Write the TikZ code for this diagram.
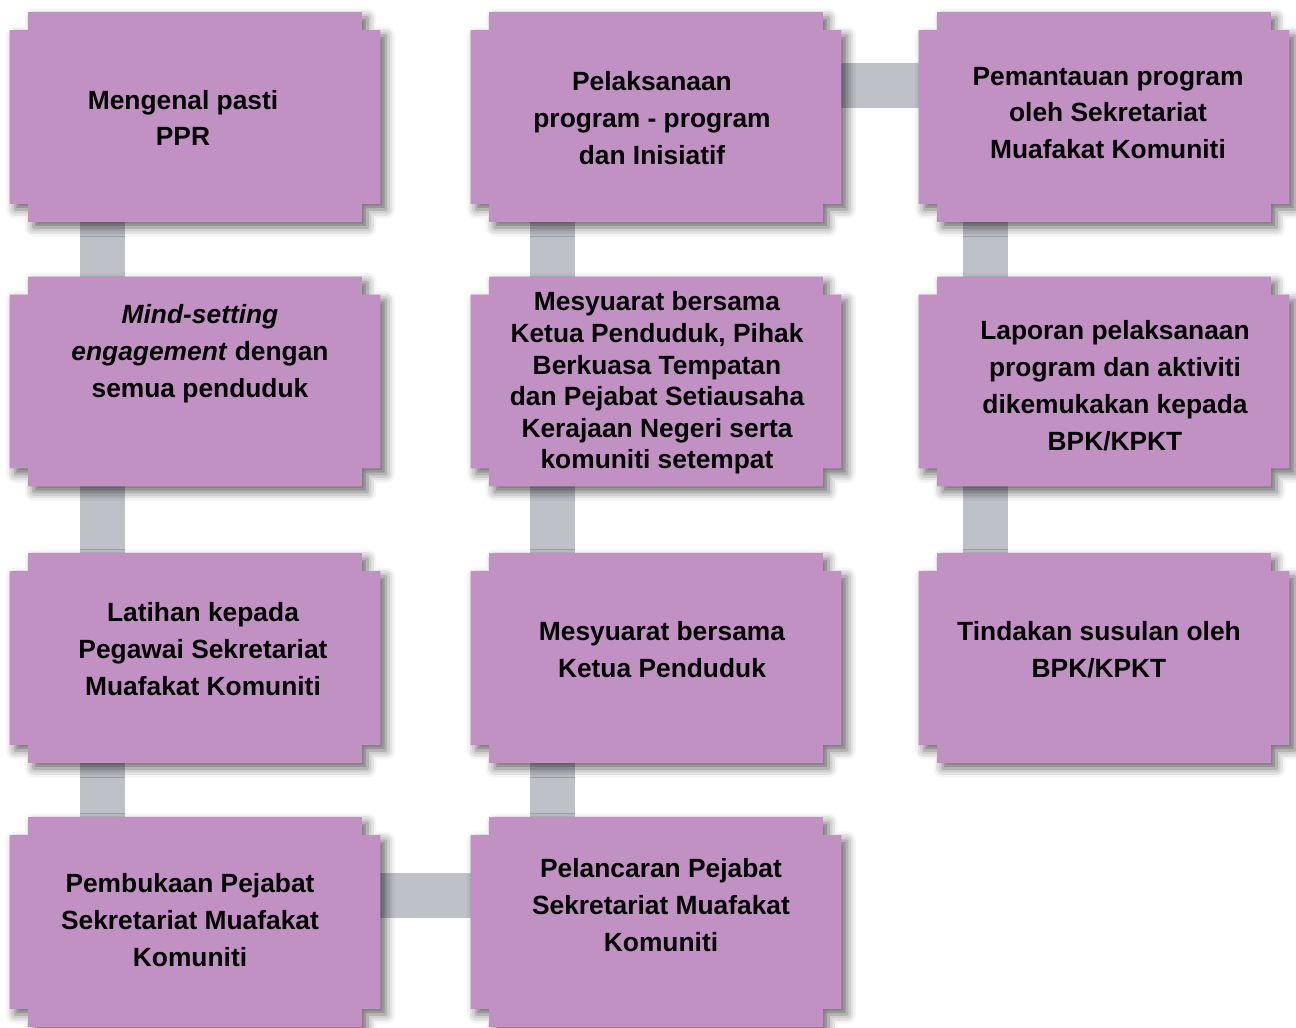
\documentclass[tikz,border=0pt]{standalone}
\usepackage{fontspec}
\setmainfont{Liberation Sans}
\usepackage{xcolor}
\usetikzlibrary{positioning, calc, backgrounds, shadows.blur}
\definecolor{boxpurple}{HTML}{C291C3}
\definecolor{linkgray}{HTML}{BFC1C9}

\begin{document}
\begin{tikzpicture}[x=0.02cm, y=-0.02cm,
    box/.style={rectangle, minimum width=6.68cm, minimum height=4.2cm, inner sep=0pt, outer sep=0pt},
    lbl/.style={font=\fontsize{15}{21}\selectfont\bfseries, align=center, inner sep=0pt},
    notch/.style={fill=boxpurple, blur shadow={shadow xshift=0.11cm, shadow yshift=-0.11cm, shadow blur radius=0.18cm, shadow opacity=60}},
    link/.style={draw=linkgray, line width=0.9cm}
]
\useasboundingbox (0,0) rectangle (1296,1028);

% Column 1
\node[box] (pasti) at (195,117) {};
\node[box] (mind) at (195,381.5) {};
\node[box] (latihan) at (195,658) {};
\node[box] (buka) at (195,922) {};

% Column 2
\node[box] (laksana) at (656,117) {};
\node[box] (mesyall) at (656,381.5) {};
\node[box] (mesyk) at (656,658) {};
\node[box] (lancar) at (656,922) {};

% Column 3
\node[box] (pantau) at (1104,117) {};
\node[box] (lapor) at (1104,381.5) {};
\node[box] (susul) at (1104,658) {};

% Labels
\node[lbl] at ($(pasti)+(-12,1)$) {Mengenal pasti\\PPR};
\node[lbl] at ($(mind)+(5,-27.5)$) {\textit{Mind-setting}\\\textit{engagement} dengan\\semua penduduk};
\node[lbl] at ($(latihan)+(8,-9)$) {Latihan kepada\\Pegawai Sekretariat\\Muafakat Komuniti};
\node[lbl] at ($(buka)+(-5,-2)$) {Pembukaan Pejabat\\Sekretariat Muafakat\\Komuniti};
\node[lbl] at ($(laksana)+(-4,1)$) {Pelaksanaan\\program - program\\dan Inisiatif};
\node[lbl, font=\fontsize{15}{18}\selectfont\bfseries] at ($(mesyall)+(1,1.5)$) {Mesyuarat bersama\\Ketua Penduduk, Pihak\\Berkuasa Tempatan\\dan Pejabat Setiausaha\\Kerajaan Negeri serta\\komuniti setempat};
\node[lbl] at ($(mesyk)+(6,-8)$) {Mesyuarat bersama\\Ketua Penduduk};
\node[lbl] at ($(lancar)+(5,-17)$) {Pelancaran Pejabat\\Sekretariat Muafakat\\Komuniti};
\node[lbl] at ($(pantau)+(4,-4)$) {Pemantauan program\\oleh Sekretariat\\Muafakat Komuniti};
\node[lbl] at ($(lapor)+(11,4.5)$) {Laporan pelaksanaan\\program dan aktiviti\\dikemukakan kepada\\BPK/KPKT};
\node[lbl] at ($(susul)+(-5,-8)$) {Tindakan susulan oleh\\BPK/KPKT};

\begin{scope}[on background layer]
% Links
\draw[link] ([xshift=-1.85cm]pasti.south) -- ([xshift=-1.85cm]mind.north);
\draw[link] ([xshift=-1.85cm]mind.south) -- ([xshift=-1.85cm]latihan.north);
\draw[link] ([xshift=-1.85cm]latihan.south) -- ([xshift=-1.85cm]buka.north);
\draw[link] ([yshift=0.54cm]buka.east) -- ([yshift=0.54cm]lancar.west);
\draw[link] ([xshift=-2.07cm]lancar.north) -- ([xshift=-2.07cm]mesyk.south);
\draw[link] ([xshift=-2.07cm]mesyk.north) -- ([xshift=-2.07cm]mesyall.south);
\draw[link] ([xshift=-2.07cm]mesyall.north) -- ([xshift=-2.07cm]laksana.south);
\draw[link] ([yshift=0.63cm]laksana.east) -- ([yshift=0.63cm]pantau.west);
\draw[link] ([xshift=-2.37cm]pantau.south) -- ([xshift=-2.37cm]lapor.north);
\draw[link] ([xshift=-2.37cm]lapor.south) -- ([xshift=-2.37cm]susul.north);

% Notched boxes
\foreach \b in {pasti,mind,latihan,buka,laksana,mesyall,mesyk,lancar,pantau,lapor,susul}
  \fill[notch] (\b.north west) -- (\b.north east) -- ([yshift=-0.36cm]\b.north east)
    -- ([xshift=0.37cm,yshift=-0.36cm]\b.north east) -- ([xshift=0.37cm,yshift=0.36cm]\b.south east)
    -- ([yshift=0.36cm]\b.south east) -- (\b.south east) -- (\b.south west)
    -- ([yshift=0.36cm]\b.south west) -- ([xshift=-0.37cm,yshift=0.36cm]\b.south west)
    -- ([xshift=-0.37cm,yshift=-0.36cm]\b.north west) -- ([yshift=-0.36cm]\b.north west) -- cycle;
\end{scope}

\end{tikzpicture}
\end{document}
